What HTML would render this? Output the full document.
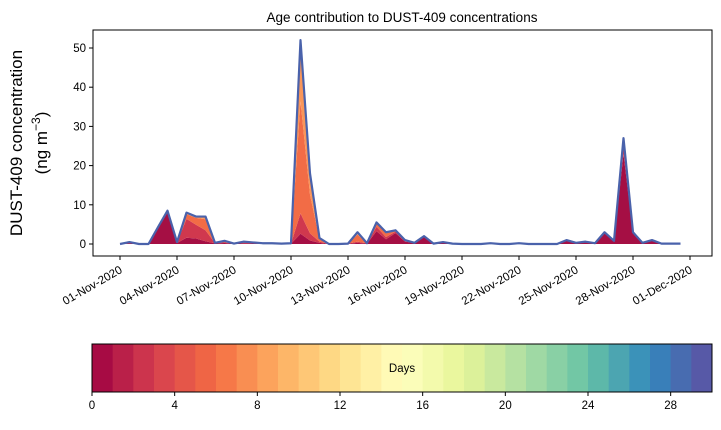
<!DOCTYPE html>
<html><head><meta charset="utf-8"><style>
body{margin:0;background:#fff;}
svg{font-family:"Liberation Sans","DejaVu Sans",sans-serif;}
</style></head><body>
<svg id="c" width="721" height="425" viewBox="0 0 721 425"></svg>
<script>
const dayLabels=["01-Nov-2020","04-Nov-2020","07-Nov-2020","10-Nov-2020","13-Nov-2020","16-Nov-2020","19-Nov-2020","22-Nov-2020","25-Nov-2020","28-Nov-2020","01-Dec-2020"];
const tickDays=[0,3,6,9,12,15,18,21,24,27,30];
const yTicks=[0,10,20,30,40,50];
const cbTicks=[0,4,8,12,16,20,24,28];
// total concentration every 12 h from 01-Nov
const total=[0,0.5,0,0,4.3,8.5,0.5,8,7,7,0.3,0.8,0.1,0.6,0.4,0.2,0.2,0.1,0.2,52,18,1.5,0,0,0.1,3,0.2,5.5,3,3.5,1,0.3,2,0.1,0.5,0.1,0,0,0,0.2,0,0,0.2,0,0,0,0,1,0.3,0.6,0.2,3,0.8,27,3,0.3,1,0.1,0.1,0.1];
// share of age groups (dark red 0-1 d, red 1-3 d, orange 3-6 d); remainder older
const share0=[0.5,0.3,0.5,0.5,0.95,0.95,0.5,0.2,0.2,0.1,0.5,0.3,0.5,0.3,0.3,0.3,0.3,0.3,0.3,0.05,0.05,0.2,0.5,0.5,0.5,0.1,0.5,0.6,0.4,0.8,0.6,0.8,0.9,0.8,0.9,0.8,0.5,0.5,0.5,0.3,0.5,0.5,0.3,0.5,0.5,0.5,0.5,0.8,0.8,0.8,0.8,0.9,0.9,0.85,0.9,0.8,0.9,0.8,0.8,0.8];
const share1=[0.2,0.2,0.2,0.2,0.03,0.03,0.2,0.6,0.5,0.4,0.2,0.2,0.2,0.2,0.2,0.2,0.2,0.2,0.2,0.1,0.1,0.2,0.2,0.2,0.2,0.1,0.2,0.2,0.2,0.1,0.2,0.1,0.05,0.1,0.05,0.1,0.2,0.2,0.2,0.2,0.2,0.2,0.2,0.2,0.2,0.2,0.2,0.1,0.1,0.1,0.1,0.05,0.05,0.1,0.05,0.1,0.05,0.1,0.1,0.1];
const share2=[0.2,0.4,0.2,0.2,0.02,0.02,0.2,0.15,0.25,0.4,0.2,0.4,0.2,0.4,0.4,0.4,0.4,0.4,0.4,0.55,0.55,0.4,0.2,0.2,0.2,0.6,0.2,0.15,0.3,0.08,0.15,0.08,0.04,0.08,0.04,0.08,0.2,0.2,0.2,0.4,0.2,0.2,0.4,0.2,0.2,0.2,0.2,0.08,0.08,0.08,0.08,0.04,0.04,0.04,0.04,0.08,0.04,0.08,0.08,0.08];
const layerColors=["#a50f44","#d0384e","#f26c46","#f9965a"];

const svg=document.getElementById('c');
const NS='http://www.w3.org/2000/svg';
function el(t,a,p){const e=document.createElementNS(NS,t);for(const k in a)e.setAttribute(k,a[k]);(p||svg).appendChild(e);return e;}
const X0=93,X1=712,Y0=30,Y1=256;
const xs=d=>120+d*19;
const ys=v=>244-v*3.92;

// axes frame
const frame=el('rect',{x:X0,y:Y0,width:X1-X0,height:Y1-Y0,fill:'none',stroke:'#000','stroke-width':1});



// stacked layers
const shares=[share0,share1,share2];
let lower=total.map(()=>0);
for(let L=0;L<4;L++){
  const upper=total.map((t,i)=>L<3?lower[i]+t*shares[L][i]:t);
  let d='M'+total.map((t,i)=>xs(i/2)+','+ys(upper[i])).join('L');
  for(let i=total.length-1;i>=0;i--)d+='L'+xs(i/2)+','+ys(lower[i]);
  const p=el('path',{d:d+'Z',fill:layerColors[L],stroke:'none'});
  
  
  lower=upper;
}
const line=el('polyline',{points:total.map((t,i)=>xs(i/2)+','+ys(t)).join(' '),fill:'none',stroke:'#4a62ab','stroke-width':2.2,'stroke-linejoin':'round'});



// y ticks
yTicks.forEach(v=>{
  el('line',{x1:X0-4,x2:X0,y1:ys(v),y2:ys(v),stroke:'#000'});
  const t=el('text',{x:X0-7,y:ys(v)+4,'text-anchor':'end','font-size':11.5});
  t.textContent=v;
  
  
});
// x ticks
tickDays.forEach((d,i)=>{
  el('line',{x1:xs(d),x2:xs(d),y1:Y1,y2:Y1+4,stroke:'#000'});
  const t=el('text',{x:xs(d)+3,y:Y1+16,'text-anchor':'end','font-size':11.5,transform:`rotate(-30 ${xs(d)+3} ${Y1+16})`});
  t.textContent=dayLabels[i];
  
  
});
const title=el('text',{x:402,y:22,'text-anchor':'middle','font-size':13.5});
title.textContent='Age contribution to DUST-409 concentrations';


const yl=el('text',{transform:'translate(22,143) rotate(-90)','text-anchor':'middle','font-size':17});
yl.textContent='DUST-409 concentration';


const yl2=el('text',{transform:'translate(47,143) rotate(-90)','text-anchor':'middle','font-size':17});
yl2.innerHTML='(ng m<tspan dy="-7" font-size="12">−3</tspan><tspan dy="7">)</tspan>';



// colorbar
const anchors=["#9e0142","#d53e4f","#f46d43","#fdae61","#fee08b","#ffffbf","#e6f598","#abdda4","#66c2a5","#3288bd","#5e4fa2"];
function hx(c){return [1,3,5].map(i=>parseInt(c.substr(i,2),16));}
function spec(t){const p=t*10,i=Math.min(9,Math.floor(p)),f=p-i;const a=hx(anchors[i]),b=hx(anchors[i+1]);return 'rgb('+a.map((v,k)=>Math.round(v+(b[k]-v)*f)).join(',')+')';}
const CB0=92,CB1=712,CBY=344,CBH=48;
const cw=(CB1-CB0)/30;
for(let k=0;k<30;k++){
  const r=el('rect',{x:CB0+k*cw,y:CBY,width:cw+0.5,height:CBH,fill:spec((k+0.5)/30)});
  
  
}
const cbf=el('rect',{x:CB0,y:CBY,width:CB1-CB0,height:CBH,fill:'none',stroke:'#000'});


cbTicks.forEach(v=>{
  const x=CB0+v*cw;
  el('line',{x1:x,x2:x,y1:CBY+CBH,y2:CBY+CBH+4,stroke:'#000'});
  const t=el('text',{x:x,y:CBY+CBH+17,'text-anchor':'middle','font-size':11.5});
  t.textContent=v;
  
  
});
const dl=el('text',{x:402,y:372,'text-anchor':'middle','font-size':11.5});
dl.textContent='Days';


</script>
</body></html>
